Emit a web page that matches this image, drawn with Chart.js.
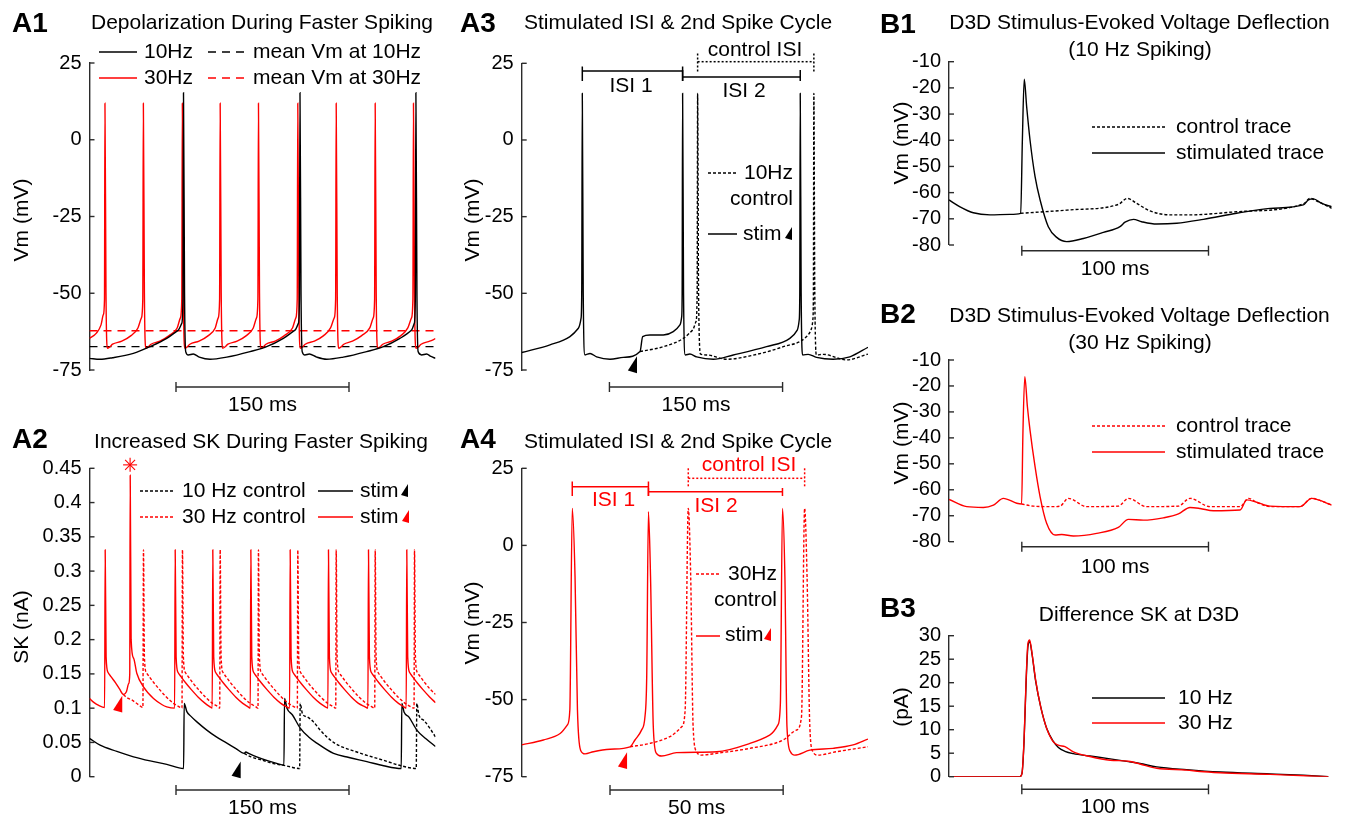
<!DOCTYPE html>
<html lang="en">
<head>
<meta charset="UTF-8">
<title>SK current during faster spiking</title>
<script src="https://cdn.jsdelivr.net/npm/chart.js"></script>
<style>
  body { margin: 0; background: #fff; }
  #wrap { position: relative; width: 1345px; height: 819px; }
  canvas { position: absolute; left: 0; top: 0; }
</style>
</head>
<body>
<div id="wrap">
  <canvas id="a1" width="1345" height="819"></canvas>
  <canvas id="a2" width="1345" height="819"></canvas>
  <canvas id="a3" width="1345" height="819"></canvas>
  <canvas id="a4" width="1345" height="819"></canvas>
  <canvas id="b1" width="1345" height="819"></canvas>
  <canvas id="b2" width="1345" height="819"></canvas>
  <canvas id="b3" width="1345" height="819"></canvas>
</div>
<script>
// ---------- data (time in ms) ----------
// A1: membrane potential (mV)
const a1Ticks = [-75, -50, -25, 0, 25];
const a1Black = [[0,-71.2],[9,-71.5],[20,-71],[38,-69.6],[52.5,-67.4],[67,-64.7],[77,-62],[80,-59.8],[81,-52],[81.5,15.3],[82.4,-50],[83.4,-69],[85.7,-70.1],[90,-69.8],[95.2,-70.8],[104.5,-71.5],[119,-70.8],[139.2,-69],[153.6,-67.4],[168.1,-64.7],[178.2,-62],[181.1,-59.8],[182,-52],[182.5,15.3],[183.4,-50],[184.4,-69],[186.8,-70.1],[190.6,-69.8],[197,-70.8],[205.6,-71.5],[220,-70.8],[240.3,-69],[254.8,-67.4],[269.2,-64.7],[279.3,-62],[281.6,-59.8],[282.5,-52],[283,15.3],[283.9,-50],[284.9,-69],[288,-70.1],[292.3,-69.8],[296,-70.6],[300,-71.2]];
const a1Red = [[0,-64.7],[6,-63],[10,-60.3],[12,-57],[13,-52],[13.4,11.9],[14.3,-50],[15.5,-67.9],[17.5,-67.5],[20,-66.6],[28,-65.6],[36,-63.8],[42,-61.3],[45,-58],[46.2,-52],[46.7,11.9],[47.6,-50],[48.8,-67.9],[50.8,-67.5],[53.3,-66.6],[61,-65.6],[69,-63.8],[76,-61.3],[78.8,-58],[80,-52],[80.5,11.9],[81.4,-50],[82.6,-67.9],[84.6,-67.5],[87,-66.6],[95,-65.6],[103,-63.8],[109,-61.3],[111.6,-58],[112.8,-52],[113.3,11.9],[114.2,-50],[115.4,-67.9],[117.4,-67.5],[120,-66.6],[128,-65.6],[136,-63.8],[142,-61.3],[144.8,-58],[146,-52],[146.5,11.9],[147.4,-50],[148.6,-67.9],[150.6,-67.5],[153,-66.6],[161,-65.6],[169,-63.8],[176,-61.3],[178.9,-58],[180.1,-52],[180.6,11.9],[181.5,-50],[182.7,-67.9],[184.7,-67.5],[187,-66.6],[195,-65.6],[203,-63.8],[209,-61.3],[212.2,-58],[213.4,-52],[213.9,11.9],[214.8,-50],[216,-67.9],[218,-67.5],[220.5,-66.6],[228,-65.6],[236,-63.8],[243,-61.3],[246,-58],[247.2,-52],[247.7,11.9],[248.6,-50],[249.8,-67.9],[251.8,-67.5],[254.3,-66.6],[262,-65.6],[270,-63.8],[276,-61.3],[279.2,-58],[280.4,-52],[280.9,11.9],[281.8,-50],[283,-67.9],[285,-67.5],[287.5,-66.6],[295,-65.6],[300,-64.8]];
const a1MeanBlack = [[0,-67.4],[300,-67.4]];
const a1MeanRed = [[0,-62.2],[300,-62.2]];

// A2: SK current (nA)
const a2Ticks = [0, 0.05, 0.1, 0.15, 0.2, 0.25, 0.3, 0.35, 0.4, 0.45];
const a2RedStim = [[0,0.114],[4,0.108],[8,0.104],[13.1,0.101],[13.6,0.331],[14.4,0.175],[16.1,0.152],[18.6,0.146],[22.6,0.137],[26,0.128],[29.5,0.12],[32,0.124],[34,0.136],[34.9,0.15],[35.3,0.44],[36.1,0.2],[38.2,0.173],[41,0.151],[46.8,0.131],[55.5,0.114],[63,0.105],[67,0.102],[73.8,0.1],[74.3,0.331],[75.1,0.175],[76.8,0.152],[79.3,0.146],[83.3,0.137],[88.3,0.127],[94.3,0.116],[100.3,0.107],[104.5,0.102],[106.4,0.1],[106.9,0.331],[107.7,0.175],[109.4,0.152],[111.9,0.146],[115.9,0.137],[120.9,0.127],[126.9,0.116],[132.9,0.107],[137.5,0.102],[139.4,0.1],[139.9,0.331],[140.7,0.175],[142.4,0.152],[144.9,0.146],[148.9,0.137],[153.9,0.127],[159.9,0.116],[165.9,0.107],[171,0.102],[173.5,0.1],[174,0.331],[174.8,0.175],[176.5,0.152],[179,0.146],[183,0.137],[188,0.127],[194,0.116],[200,0.107],[204.5,0.102],[206.7,0.1],[207.2,0.331],[208,0.175],[209.7,0.152],[212.2,0.146],[216.2,0.137],[221.2,0.127],[227.2,0.116],[233.2,0.107],[239,0.102],[241.4,0.1],[241.9,0.331],[242.7,0.175],[244.4,0.152],[246.9,0.146],[250.9,0.137],[255.9,0.127],[261.9,0.116],[267.9,0.107],[272.5,0.102],[274.6,0.1],[275.1,0.331],[275.9,0.175],[277.6,0.152],[280.1,0.146],[284.1,0.137],[289.1,0.127],[295.1,0.116],[300,0.108]];
const a2RedCtrl = [[29.5,0.12],[32,0.116],[36.7,0.112],[42.5,0.105],[46.3,0.101],[46.8,0.331],[47.6,0.175],[49.3,0.152],[51.8,0.146],[55.8,0.137],[60.8,0.127],[66.8,0.116],[72.8,0.107],[77.8,0.102],[80.2,0.1],[80.6,0.331],[81.4,0.175],[83.1,0.152],[85.6,0.146],[89.6,0.137],[94.6,0.127],[100.6,0.116],[106.6,0.107],[111.6,0.102],[112.9,0.1],[113.3,0.331],[114.1,0.175],[115.8,0.152],[118.3,0.146],[122.3,0.137],[127.3,0.127],[133.3,0.116],[139.3,0.107],[144.3,0.102],[146.1,0.1],[146.5,0.331],[147.3,0.175],[149,0.152],[151.5,0.146],[155.5,0.137],[160.5,0.127],[166.5,0.116],[172.5,0.107],[177.5,0.102],[180.2,0.1],[180.6,0.331],[181.4,0.175],[183.1,0.152],[185.6,0.146],[189.6,0.137],[194.6,0.127],[200.6,0.116],[206.6,0.107],[211.6,0.102],[213.5,0.1],[213.9,0.331],[214.7,0.175],[216.4,0.152],[218.9,0.146],[222.9,0.137],[227.9,0.127],[233.9,0.116],[239.9,0.107],[244.9,0.102],[247.3,0.1],[247.7,0.331],[248.5,0.175],[250.2,0.152],[252.7,0.146],[256.7,0.137],[261.7,0.127],[267.7,0.116],[273.7,0.107],[278.7,0.102],[281.4,0.1],[281.8,0.331],[282.6,0.175],[284.3,0.152],[286.8,0.146],[290.8,0.137],[295.8,0.127],[300,0.12]];
const a2BlackStim = [[0,0.056],[9.2,0.046],[23.7,0.037],[38.2,0.029],[52.6,0.023],[67,0.018],[81.6,0.012],[82.1,0.107],[84.4,0.095],[88,0.088],[93.1,0.08],[101.7,0.068],[110,0.058],[119.1,0.049],[127,0.041],[134.1,0.034],[135.5,0.036],[138,0.034],[145,0.029],[155,0.023],[163,0.019],[168.6,0.017],[169.1,0.114],[171.2,0.1],[176,0.09],[182.7,0.071],[190,0.058],[197.1,0.049],[211.6,0.034],[225,0.028],[240.5,0.022],[255,0.016],[270.3,0.012],[270.8,0.107],[272.8,0.094],[277,0.087],[283.8,0.068],[292,0.055],[300,0.044]];
const a2BlackCtrl = [[134.1,0.034],[140,0.029],[150,0.024],[160,0.019],[170,0.016],[182.2,0.012],[182.7,0.107],[184.6,0.092],[189,0.087],[194.2,0.08],[200,0.068],[211.6,0.05],[231.8,0.036],[254.9,0.024],[270,0.016],[283.3,0.012],[283.8,0.107],[285.6,0.09],[290,0.082],[295,0.071],[300,0.058]];

// A3: 10 Hz stimulated vs control (mV)
const a3Ticks = [-75, -50, -25, 0, 25];
const a3Stim = [[0,-69.3],[24.5,-66.8],[41.8,-64.1],[49.1,-61.4],[51.4,-58.2],[52,-50],[52.5,15.2],[53.3,-50],[54.8,-70.1],[59.2,-69.6],[64.9,-70.7],[76.5,-71.5],[88,-70.9],[102.5,-69],[104.8,-64.1],[111.1,-63.6],[122.7,-63.6],[131.3,-62.5],[137.1,-60.3],[138.6,-57.6],[139,-50],[139.4,15.2],[140.2,-50],[141.7,-70.1],[145.7,-69.8],[151.5,-70.7],[166,-71.5],[183.3,-70.1],[212.1,-67.4],[232.3,-64.7],[238.7,-62],[240.4,-58.7],[240.9,-50],[241.3,15.2],[242.1,-50],[243.4,-70.1],[248.2,-69.9],[255.4,-70.9],[269.8,-71.5],[284.3,-70.7],[300,-67.6]];
const a3Ctrl = [[102.5,-69],[122.7,-67.4],[140,-64.7],[148,-62],[151,-59.2],[152,-50],[152.4,15.2],[153.2,-50],[155,-69.8],[160.2,-70.1],[177.5,-71.5],[197.7,-70.4],[226.6,-67.4],[246.8,-64.1],[251.1,-61.4],[252.2,-58.7],[252.7,-50],[253.1,15.2],[253.9,-50],[255.4,-70.1],[261.2,-69.9],[281.4,-71.7],[300,-69.8]];
const a3StimSpikes = [52.5, 139.4, 241.3];
const a3CtrlSpikes = [152.4, 253.1];

// A4: 30 Hz stimulated vs control (mV)
const a4Ticks = [-75, -50, -25, 0, 25];
const a4Stim = [[0,-64.7],[6.25,-63.1],[11.1,-61],[13.2,-58.2],[13.9,-53.4],[14.6,12],[15.4,-10],[16.1,-53.4],[17,-66.4],[18.3,-67.6],[20.7,-66.9],[25.5,-66.1],[31.3,-65.3],[32.7,-63.1],[34.6,-59.9],[35.6,-55.5],[36.1,-42.6],[36.6,10.9],[37.2,-10],[38,-58.8],[38.9,-67.4],[40.4,-68.3],[44.7,-67.2],[56.3,-66.9],[65.9,-64.2],[71.6,-61.5],[74,-58.2],[74.7,-51.2],[75.3,12],[76,-10],[76.6,-58.8],[77.6,-66.9],[78.8,-68],[83.2,-66.4],[89.9,-65.8],[95.7,-64.7],[100,-62.8]];
const a4Ctrl = [[31.3,-65.3],[37,-64.2],[42.8,-62],[46.2,-58.8],[47.2,-53.4],[48.1,12],[48.8,-10],[49.5,-58.8],[50.5,-66.9],[51.9,-68],[56.3,-67.4],[65.9,-65.8],[75.5,-63.1],[79.3,-59.9],[80.8,-55.5],[81.7,12],[82.4,-10],[83.2,-58.8],[84.1,-66.9],[85.6,-68],[90.9,-66.9],[100,-65.3]];
const a4StimSpikes = [14.6, 36.6, 75.3];
const a4CtrlSpikes = [48.1, 81.7];

// B1/B2: D3D voltage deflection (mV)
const bTicks = [-80, -70, -60, -50, -40, -30, -20, -10];
const b1Stim = [[0,-62.8],[5.9,-65.4],[13,-67.7],[22,-68.5],[32.7,-68.3],[38.4,-67.9],[39.3,-40],[40.3,-16.7],[41.6,-27.2],[43.4,-39.9],[46.1,-53.9],[48.8,-62.8],[53.2,-73],[57.7,-77.1],[63,-78.7],[72,-77.5],[82.7,-75.2],[91.6,-73],[94.3,-71.3],[98.8,-70.2],[103.2,-71.1],[111.3,-72],[122,-71.7],[136.3,-70.2],[154.1,-67.9],[172,-66],[189.8,-64.7],[192.5,-62.8],[195.2,-62.4],[199.6,-64.1],[205,-65.4]];
const b1Ctrl = [[38.4,-67.9],[64.8,-66.6],[90.7,-64.5],[95.5,-62.2],[100.5,-64.1],[107.7,-67],[118.4,-68.5],[129.1,-68.5],[154.1,-67.3],[189.8,-64.3],[193.4,-62.2],[197.9,-63.5],[205,-66]];
const b2Stim = [[0,-63.7],[9.5,-66.5],[18.4,-66.8],[23.8,-65.9],[29.1,-63.3],[36.3,-65.2],[38.9,-65.5],[39.6,-38],[40.6,-16.4],[42,-28],[43.4,-37],[46.1,-51.1],[48.8,-62.7],[52.3,-72.9],[56.8,-77.4],[60.4,-77.2],[66.6,-77.8],[79.1,-76.8],[90.7,-74.5],[96.1,-71.4],[104.1,-71.7],[114.8,-70.8],[122.9,-69.3],[129.1,-66.8],[134.5,-67.2],[141.6,-68.1],[155.9,-67.8],[159.5,-63.9],[164.8,-64.8],[172,-66.3],[188,-66.5],[194.3,-63.3],[197.9,-63.9],[205,-65.9]];
const b2Ctrl = [[38.9,-65.5],[45.2,-66.3],[55.9,-66.5],[59.5,-66.3],[63.9,-63.3],[73.8,-66.5],[90.7,-66.3],[96.1,-63.3],[105.9,-66.5],[122.9,-66.3],[129.1,-63.3],[139.8,-66.5],[155.9,-66.5],[160.4,-63.3],[164.8,-64.8],[172,-66.5],[188,-66.5],[194.3,-63.3],[197.9,-63.9],[205,-65.9]];

// B3: difference SK (pA)
const b3Ticks = [0, 5, 10, 15, 20, 25, 30];
const b3Hz10 = [[0,0],[38,0],[39.1,0.7],[40.2,7.5],[41.3,20],[42.3,27.8],[43.2,28.7],[44.5,26],[46.4,20.4],[49.1,14.9],[52.3,10.3],[55.9,7.5],[58.6,6.2],[62.1,5.4],[66.6,4.9],[75.5,4.4],[86.3,3.8],[96.1,3.2],[102.3,2.8],[111.3,2.1],[127.3,1.5],[145.2,1],[172,0.6],[189.8,0.3],[203.2,0]];
const b3Hz30 = [[0,0],[38,0],[39.1,0.7],[40.2,7.8],[41.3,20.6],[42.3,28.4],[43.2,29.1],[44.5,26.2],[46.4,20.6],[49.1,14.9],[52.3,10.3],[55.9,7.4],[58.6,6.7],[62.1,6.4],[66.6,5.3],[75.5,4.3],[86.3,3.5],[96.1,3.3],[102.3,2.7],[111.3,1.8],[127.3,1.4],[134.5,1.1],[145.2,0.85],[172,0.5],[189.8,0.2],[203.2,0]];

// ---------- drawing ----------
const FONT = '"Liberation Sans", Arial, Helvetica, sans-serif';
const RED = '#ff0000', BLK = '#000000', AXC = '#2b2b2b';
const AXW = 80;

function pts(arr) { return arr.map(p => ({ x: p[0], y: p[1] })); }

function trace(arr, color, dash, order) {
  return {
    data: pts(arr), borderColor: color, borderWidth: 1.4, borderDash: dash || [],
    pointRadius: 0, cubicInterpolationMode: 'monotone', fill: false, order: order
  };
}

function text(ctx, s, x, y, o) {
  o = o || {};
  ctx.save();
  ctx.font = (o.bold ? 'bold ' : '') + (o.size || 21) + 'px ' + FONT;
  ctx.fillStyle = o.color || '#000';
  ctx.textAlign = o.align || 'center';
  ctx.textBaseline = 'middle';
  ctx.translate(x, y);
  if (o.rot) ctx.rotate(-Math.PI / 2);
  ctx.fillText(s, 0, 0);
  ctx.restore();
}

function seg(ctx, x1, y1, x2, y2, color, dash, w) {
  ctx.save();
  ctx.strokeStyle = color || AXC;
  ctx.lineWidth = w || 1.4;
  ctx.setLineDash(dash || []);
  ctx.beginPath(); ctx.moveTo(x1, y1); ctx.lineTo(x2, y2); ctx.stroke();
  ctx.restore();
}

function scaleBar(c, t0, t1, y, label, dy) {
  const a = c.scales.x.getPixelForValue(t0), b = c.scales.x.getPixelForValue(t1);
  seg(c.ctx, a, y, b, y); seg(c.ctx, a, y - 5, a, y + 5); seg(c.ctx, b, y - 5, b, y + 5);
  text(c.ctx, label, (a + b) / 2, y + (dy || 18));
}

function innerTicks(c) {
  const ys = c.scales.y, x = c.chartArea.left;
  ys.ticks.forEach(t => { const py = ys.getPixelForValue(t.value); seg(c.ctx, x, py, x + 5, py); });
}

// small filled stimulus arrowhead
function wedgePx(ctx, x, y, color, big) {
  const k = big ? 1.3 : 1;
  ctx.save(); ctx.fillStyle = color; ctx.beginPath();
  ctx.moveTo(x + 3 * k, y - 7 * k); ctx.lineTo(x + 3 * k, y + 6 * k); ctx.lineTo(x - 4 * k, y + 4 * k);
  ctx.closePath(); ctx.fill(); ctx.restore();
}
function wedge(c, t, v, color) {
  wedgePx(c.ctx, c.scales.x.getPixelForValue(t), c.scales.y.getPixelForValue(v), color, true);
}

function bracket(c, t0, t1, yLine, yTop, yBot, color, dash) {
  const a = c.scales.x.getPixelForValue(t0), b = c.scales.x.getPixelForValue(t1);
  seg(c.ctx, a, yLine, b, yLine, color, dash, 1.5);
  seg(c.ctx, a, yTop, a, yBot, color, dash, 1.5);
  seg(c.ctx, b, yTop, b, yBot, color, dash, 1.5);
}

function makePanel(id, area, xMax, yMin, yMax, ticks, datasets, extra) {
  new Chart(document.getElementById(id), {
    type: 'line',
    data: { datasets: datasets },
    options: {
      responsive: false, animation: false, devicePixelRatio: 1,
      layout: { padding: { left: area[0] - AXW, top: area[1], right: 1345 - area[2], bottom: 819 - area[3] } },
      plugins: { legend: { display: false }, tooltip: { enabled: false } },
      scales: {
        x: { type: 'linear', display: false, min: 0, max: xMax },
        y: {
          type: 'linear', min: yMin, max: yMax,
          afterFit: s => { s.width = AXW; },
          afterBuildTicks: s => { s.ticks = ticks.map(v => ({ value: v })); },
          grid: { display: true, drawOnChartArea: false, drawTicks: false },
          border: { display: true, color: AXC, width: 1.4 },
          ticks: { padding: 8, autoSkip: false, color: '#000', font: { family: FONT, size: 20 }, callback: v => String(v) }
        }
      }
    },
    plugins: [{ id: 'extras_' + id, afterDraw: c => { innerTicks(c); extra(c); } }]
  });
}

// A1
makePanel('a1', [89.5, 63, 435.5, 370], 300, -75, 25, a1Ticks, [
  trace(a1Black, BLK, [], 0),
  trace(a1Red, RED, [], 1),
  trace(a1MeanBlack, BLK, [8, 6], 2),
  trace(a1MeanRed, RED, [8, 6], 3)
], c => {
  const ctx = c.ctx;
  text(ctx, 'A1', 12, 24, { bold: true, size: 28, align: 'left' });
  text(ctx, 'Depolarization During Faster Spiking', 262, 23);
  text(ctx, 'Vm (mV)', 22, 220, { rot: true });
  seg(ctx, 99, 52, 137, 52, BLK, [], 1.5); text(ctx, '10Hz', 144, 52, { align: 'left' });
  seg(ctx, 208, 52, 247, 52, BLK, [8, 6], 1.5); text(ctx, 'mean Vm at 10Hz', 253, 52, { align: 'left' });
  seg(ctx, 99, 78, 137, 78, RED, [], 1.5); text(ctx, '30Hz', 144, 78, { align: 'left' });
  seg(ctx, 208, 78, 247, 78, RED, [8, 6], 1.5); text(ctx, 'mean Vm at 30Hz', 253, 78, { align: 'left' });
  scaleBar(c, 75, 225, 387, '150 ms');
});

// A2
makePanel('a2', [89.5, 468.3, 435.5, 776.7], 300, 0, 0.45, a2Ticks, [
  trace(a2RedStim, RED, [], 0),
  trace(a2RedCtrl, RED, [3, 2], 1),
  trace(a2BlackStim, BLK, [], 2),
  trace(a2BlackCtrl, BLK, [3, 2], 3)
], c => {
  const ctx = c.ctx;
  text(ctx, 'A2', 12, 440, { bold: true, size: 28, align: 'left' });
  text(ctx, 'Increased SK During Faster Spiking', 261, 442);
  text(ctx, 'SK (nA)', 22, 627, { rot: true });
  seg(ctx, 140, 491, 175, 491, BLK, [3, 2], 1.5); text(ctx, '10 Hz control', 182, 491, { align: 'left' });
  seg(ctx, 318, 491, 353, 491, BLK, [], 1.5); text(ctx, 'stim', 360, 491, { align: 'left' }); wedgePx(ctx, 405, 491, BLK);
  seg(ctx, 140, 517, 175, 517, RED, [3, 2], 1.5); text(ctx, '30 Hz control', 182, 517, { align: 'left' });
  seg(ctx, 318, 517, 353, 517, RED, [], 1.5); text(ctx, 'stim', 360, 517, { align: 'left' }); wedgePx(ctx, 406, 517, RED);
  wedge(c, 25, 0.105, RED);
  wedge(c, 127.7, 0.009, BLK);
  // asterisk over the big SK peak
  const ax = c.scales.x.getPixelForValue(35.2), ay = c.scales.y.getPixelForValue(0.455);
  for (let k = 0; k < 4; k++) {
    const a = k * Math.PI / 4;
    seg(ctx, ax - 7 * Math.cos(a), ay - 7 * Math.sin(a), ax + 7 * Math.cos(a), ay + 7 * Math.sin(a), RED, [], 1.1);
  }
  scaleBar(c, 75, 225, 790, '150 ms');
});

// A3
makePanel('a3', [521.7, 63.3, 868, 370], 300, -75, 25, a3Ticks, [
  trace(a3Stim, BLK, [], 0),
  trace(a3Ctrl, BLK, [3, 2], 1)
], c => {
  const ctx = c.ctx;
  text(ctx, 'A3', 460, 24, { bold: true, size: 28, align: 'left' });
  text(ctx, 'Stimulated ISI & 2nd Spike Cycle', 678, 23);
  text(ctx, 'Vm (mV)', 473, 220, { rot: true });
  bracket(c, a3StimSpikes[0], a3StimSpikes[1], 71, 66.5, 81, BLK, []);
  bracket(c, a3StimSpikes[1], a3StimSpikes[2], 77, 70, 81, BLK, []);
  bracket(c, a3CtrlSpikes[0], a3CtrlSpikes[1], 61.7, 53.5, 71.5, BLK, [2, 2]);
  text(ctx, 'ISI 1', 631, 86);
  text(ctx, 'ISI 2', 744, 91);
  text(ctx, 'control ISI', 755, 50);
  seg(ctx, 708, 173, 737, 173, BLK, [3, 2], 1.5); text(ctx, '10Hz', 793, 173, { align: 'right' });
  text(ctx, 'control', 793, 199, { align: 'right' });
  seg(ctx, 708, 234, 737, 234, BLK, [], 1.5); text(ctx, 'stim', 743, 234, { align: 'left' }); wedgePx(ctx, 789, 234, BLK);
  wedge(c, 96.5, -73.5, BLK);
  scaleBar(c, 76, 226, 387, '150 ms');
});

// A4
makePanel('a4', [521.7, 468.3, 868, 776.7], 100, -75, 25, a4Ticks, [
  trace(a4Stim, RED, [], 0),
  trace(a4Ctrl, RED, [3, 2], 1)
], c => {
  const ctx = c.ctx;
  text(ctx, 'A4', 460, 440, { bold: true, size: 28, align: 'left' });
  text(ctx, 'Stimulated ISI & 2nd Spike Cycle', 678, 442);
  text(ctx, 'Vm (mV)', 473, 623, { rot: true });
  bracket(c, a4StimSpikes[0], a4StimSpikes[1], 486.7, 481.5, 496, RED, []);
  bracket(c, a4StimSpikes[1], a4StimSpikes[2], 491.7, 488, 496, RED, []);
  bracket(c, a4CtrlSpikes[0], a4CtrlSpikes[1], 478.3, 468.3, 487.5, RED, [2, 2]);
  text(ctx, 'ISI 1', 613.5, 500, { color: RED });
  text(ctx, 'ISI 2', 716, 506.5, { color: RED });
  text(ctx, 'control ISI', 749, 465.5, { color: RED });
  seg(ctx, 696, 574, 720, 574, RED, [3, 2], 1.5); text(ctx, '30Hz', 777, 574, { align: 'right' });
  text(ctx, 'control', 777, 600, { align: 'right' });
  seg(ctx, 696, 636, 720, 636, RED, [], 1.5); text(ctx, 'stim', 725, 635, { align: 'left' }); wedgePx(ctx, 768, 635, RED);
  wedge(c, 29.3, -70, RED);
  scaleBar(c, 25.5, 75.5, 790, '50 ms');
});

// B1
makePanel('b1', [949, 61.7, 1331.7, 245], 205, -80, -10, bTicks, [
  trace(b1Stim, BLK, [], 0),
  trace(b1Ctrl, BLK, [3, 2], 1)
], c => {
  const ctx = c.ctx;
  text(ctx, 'B1', 880, 25, { bold: true, size: 28, align: 'left' });
  text(ctx, 'D3D Stimulus-Evoked Voltage Deflection', 1139.5, 23.5);
  text(ctx, '(10 Hz Spiking)', 1140, 50);
  text(ctx, 'Vm (mV)', 902, 143, { rot: true });
  seg(ctx, 1092, 127, 1165, 127, BLK, [3, 2], 1.5); text(ctx, 'control trace', 1176, 127, { align: 'left' });
  seg(ctx, 1092, 153, 1165, 153, BLK, [], 1.5); text(ctx, 'stimulated trace', 1176, 153, { align: 'left' });
  scaleBar(c, 39, 139, 250.7, '100 ms', 19);
});

// B2
makePanel('b2', [949, 360, 1331.7, 541.7], 205, -80, -10, bTicks, [
  trace(b2Stim, RED, [], 0),
  trace(b2Ctrl, RED, [3, 2], 1)
], c => {
  const ctx = c.ctx;
  text(ctx, 'B2', 880, 315, { bold: true, size: 28, align: 'left' });
  text(ctx, 'D3D Stimulus-Evoked Voltage Deflection', 1139.5, 316.7);
  text(ctx, '(30 Hz Spiking)', 1140, 343.3);
  text(ctx, 'Vm (mV)', 902, 443, { rot: true });
  seg(ctx, 1092, 426, 1165, 426, RED, [3, 2], 1.5); text(ctx, 'control trace', 1176, 426, { align: 'left' });
  seg(ctx, 1092, 452, 1165, 452, RED, [], 1.5); text(ctx, 'stimulated trace', 1176, 452, { align: 'left' });
  scaleBar(c, 39, 139, 546.7, '100 ms', 20.5);
});

// B3
makePanel('b3', [949, 635.7, 1331.7, 776.7], 205, 0, 30, b3Ticks, [
  trace(b3Hz30, RED, [], 0),
  trace(b3Hz10, BLK, [], 1)
], c => {
  const ctx = c.ctx;
  text(ctx, 'B3', 880, 609, { bold: true, size: 28, align: 'left' });
  text(ctx, 'Difference SK at D3D', 1139, 615);
  text(ctx, '(pA)', 902, 707, { rot: true });
  seg(ctx, 1092, 698, 1165, 698, BLK, [], 1.5); text(ctx, '10 Hz', 1178, 698, { align: 'left' });
  seg(ctx, 1092, 723, 1165, 723, RED, [], 1.5); text(ctx, '30 Hz', 1178, 723, { align: 'left' });
  scaleBar(c, 39, 139, 789.3, '100 ms', 17.5);
});
</script>
</body>
</html>
